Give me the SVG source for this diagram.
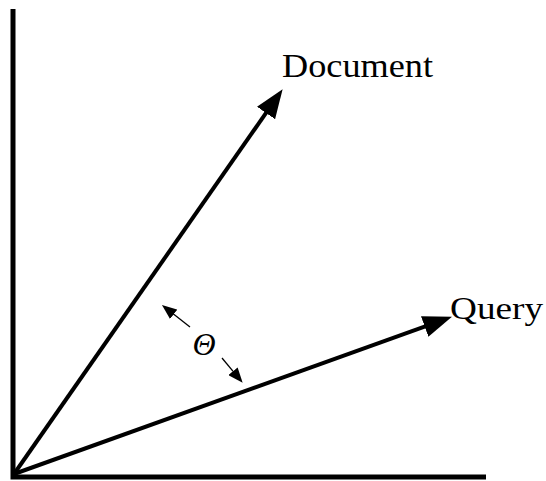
<svg xmlns="http://www.w3.org/2000/svg" width="546" height="481" viewBox="0 0 546 481">
<style>
.lbl{font-family:"Liberation Serif","Times New Roman",serif;fill:#000}
.vec{stroke:#000;stroke-width:4;fill:none}
.ang{stroke:#000;stroke-width:1.3;fill:none}
</style>
<defs>
<marker id="big" viewBox="0 0 29 22" refX="8" refY="11" markerWidth="29" markerHeight="22" markerUnits="userSpaceOnUse" orient="auto">
<path d="M0,0 L29,11 L0,22 z" fill="#000"/>
</marker>
<marker id="small" viewBox="0 0 15 12" refX="4" refY="6" markerWidth="15" markerHeight="12" markerUnits="userSpaceOnUse" orient="auto">
<path d="M0,0 L15,6 L0,12 z" fill="#000"/>
</marker>
</defs>
<rect width="546" height="481" fill="#fff"/>
<g id="axes">
<path d="M13,9 V477 H486" stroke="#000" stroke-width="5" fill="none"/>
</g>
<g id="connectors">
<line class="vec" x1="14" y1="474" x2="270.6" y2="106.4" marker-end="url(#big)"/>
<line class="vec" x1="14" y1="474" x2="432.2" y2="323.8" marker-end="url(#big)"/>
<line class="ang" x1="190" y1="327" x2="170.6" y2="311.8" marker-end="url(#small)"/>
<line class="ang" x1="222" y1="358" x2="235.6" y2="374.3" marker-end="url(#small)"/>
</g>
<g id="document">
<text class="lbl" x="282" y="77" font-size="33" textLength="151" lengthAdjust="spacingAndGlyphs">Document</text>
</g>
<g id="query">
<text class="lbl" x="450" y="319" font-size="32" textLength="93" lengthAdjust="spacingAndGlyphs">Query</text>
</g>
<g id="theta">
<text class="lbl" x="204" y="355" font-size="32" font-style="italic" text-anchor="middle">Θ</text>
</g>
</svg>
